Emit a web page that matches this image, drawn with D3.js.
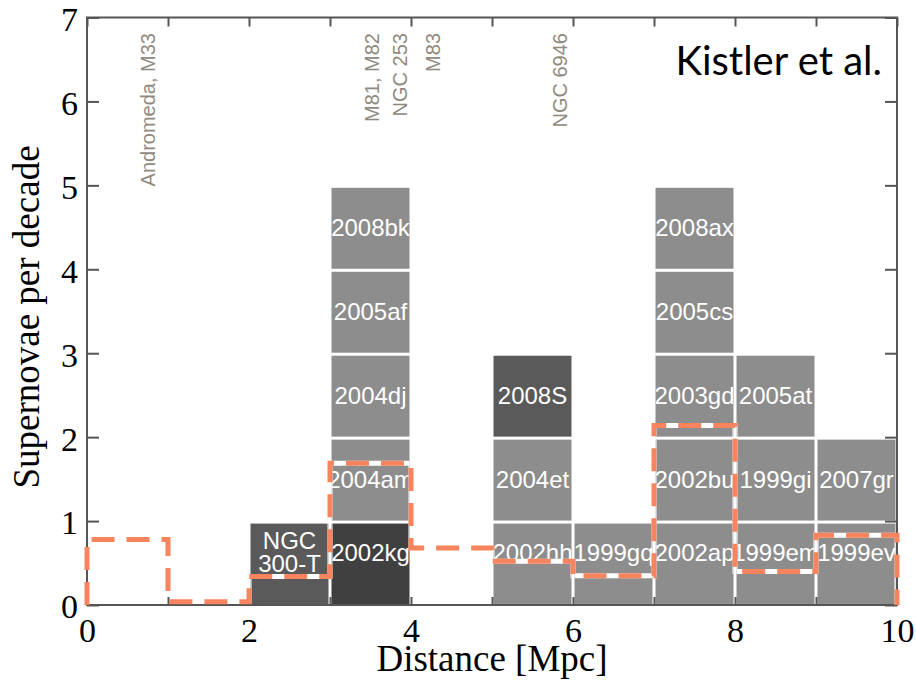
<!DOCTYPE html>
<html>
<head>
<meta charset="utf-8">
<script src="https://cdn.jsdelivr.net/npm/d3@7"></script>
<style>
  html, body { margin: 0; padding: 0; background: #fff; }
  svg { display: block; }
</style>
</head>
<body>
<svg id="chart" width="916" height="687"></svg>
<script>
// Observed core-collapse supernovae, one block per event, grouped into 1 Mpc distance bins
const snNames = ["NGC\n300-T", "2002kg", "2004am", "2004dj", "2005af", "2008bk",
                 "2002hh", "2004et", "2008S", "1999gq",
                 "2002ap", "2002bu", "2003gd", "2005cs", "2008ax",
                 "1999em", "1999gi", "2005at", "1999ev", "2007gr"];
const snBinStart = [2, 3, 3, 3, 3, 3, 5, 5, 5, 6, 7, 7, 7, 7, 7, 8, 8, 8, 9, 9];
const snKind = ["transient", "lbv", "sn", "sn", "sn", "sn",
                "sn", "sn", "transient", "sn",
                "sn", "sn", "sn", "sn", "sn",
                "sn", "sn", "sn", "sn", "sn"];
const snPerDecade = 1; // each event contributes one supernova per decade

// Expected rate per 1 Mpc bin (dashed step curve)
const rateBinStart = [0, 1, 2, 3, 4, 5, 6, 7, 8, 9];
const rateExpected = [0.78, 0.04, 0.34, 1.69, 0.68, 0.52, 0.35, 2.14, 0.40, 0.83];

// Nearby galaxies marked at their distances
const galaxyNames = ["Andromeda, M33", "M81, M82", "NGC 253", "M83", "NGC 6946"];
const galaxyDist = [0.75, 3.51, 3.86, 4.27, 5.84];

const xTicks = [0, 1, 2, 3, 4, 5, 6, 7, 8, 9, 10];
const yTicks = [0, 1, 2, 3, 4, 5, 6, 7];

const kindColor = { sn: "#8d8d8d", transient: "#5a5a5a", lbv: "#404040" };
const serif = "'Liberation Serif', 'Times New Roman', serif";
const sans = "'Liberation Sans', Arial, sans-serif";

const svg = d3.select("#chart");
const x = d3.scaleLinear().domain([0, 10]).range([87, 897]);
const y = d3.scaleLinear().domain([0, 7]).range([605, 17.5]);

// Stack the events inside each bin
const rowCount = {};
const blocks = snNames.map((name, i) => {
  const b = snBinStart[i];
  const row = rowCount[b] || 0;
  rowCount[b] = row + snPerDecade;
  return { name, bin: b, row, kind: snKind[i], id: "blk" + i };
});

const bx = d => x(d.bin) + 1.5;
const by = d => y(d.row + snPerDecade) + 2.5;
const bw = d => x(d.bin + 1) - x(d.bin) - 3;
const bh = d => y(d.row) - y(d.row + snPerDecade) - 3;

const defs = svg.append("defs");
blocks.forEach(d => {
  defs.append("clipPath").attr("id", d.id)
    .append("rect").attr("x", bx(d)).attr("y", by(d)).attr("width", bw(d)).attr("height", bh(d));
});
const allBlocksClip = defs.append("clipPath").attr("id", "allBlocks");
blocks.forEach(d => {
  allBlocksClip.append("rect").attr("x", bx(d)).attr("y", by(d)).attr("width", bw(d)).attr("height", bh(d));
});

// Blocks
const g = svg.append("g");
g.selectAll("rect.block").data(blocks).enter().append("rect")
  .attr("class", "block")
  .attr("x", bx).attr("y", by).attr("width", bw).attr("height", bh)
  .attr("fill", d => kindColor[d.kind]);

// Block labels
const lbl = g.selectAll("text.sn").data(blocks).enter().append("text")
  .attr("class", "sn")
  .attr("clip-path", d => `url(#${d.id})`)
  .attr("x", d => (x(d.bin) + x(d.bin + 1)) / 2)
  .attr("y", d => y(d.row === 0 ? 0.63 : d.row + 0.5))
  .attr("text-anchor", "middle")
  .attr("fill", "#fff")
  .style("font-family", sans)
  .style("font-size", "24px");
lbl.each(function(d) {
  const lines = d.name.split("\n");
  const t = d3.select(this);
  lines.forEach((ln, k) => {
    t.append("tspan")
      .attr("x", (x(d.bin) + x(d.bin + 1)) / 2)
      .attr("dy", k === 0 ? (0.35 - (lines.length - 1) * 0.48) + "em" : "0.96em")
      .text(ln);
  });
});

// Frame and ticks
const axisColor = "#555";
svg.append("rect")
  .attr("x", x(0)).attr("y", y(7))
  .attr("width", x(10) - x(0)).attr("height", y(0) - y(7))
  .attr("fill", "none").attr("stroke", axisColor).attr("stroke-width", 2);

function styleAxis(sel, dy) {
  sel.attr("font-family", serif).attr("font-size", 34);
  sel.select(".domain").remove();
  sel.selectAll(".tick line").attr("stroke", axisColor).attr("stroke-width", 2);
  sel.selectAll(".tick text")
    .attr("fill", "#000")
    .attr("dy", dy)
    .style("font-family", serif)
    .style("font-size", "34px");
}

svg.append("g").attr("transform", `translate(0,${y(0)})`)
  .call(d3.axisBottom(x).tickValues(xTicks).tickSize(-8).tickPadding(13)
    .tickFormat(d => d % 2 === 0 ? d3.format("d")(d) : ""))
  .call(styleAxis, "0.71em");
svg.append("g").attr("transform", `translate(0,${y(7)})`)
  .call(d3.axisTop(x).tickValues(xTicks).tickSize(-9).tickFormat(""))
  .call(styleAxis, "0");
svg.append("g").attr("transform", `translate(${x(0)},0)`)
  .call(d3.axisLeft(y).tickValues(yTicks).tickSize(-12).tickPadding(9).tickFormat(d3.format("d")))
  .call(styleAxis, "0.38em");
svg.append("g").attr("transform", `translate(${x(10)},0)`)
  .call(d3.axisRight(y).tickValues(yTicks).tickSize(-12).tickFormat(""))
  .call(styleAxis, "0");

// Expected rate step curve: white underlay inside the blocks, coral dashes on top
const ratePts = [[0, 0]].concat(rateBinStart.map((b, i) => [b, rateExpected[i]]));
ratePts.push([10, rateExpected[rateExpected.length - 1]], [10, 0]);
const stepLine = d3.line().x(d => x(d[0])).y(d => y(d[1])).curve(d3.curveStepAfter);
svg.append("path").attr("d", stepLine(ratePts))
  .attr("clip-path", "url(#allBlocks)")
  .attr("fill", "none").attr("stroke", "#fff").attr("stroke-width", 5);
svg.append("path").attr("d", stepLine(ratePts))
  .attr("fill", "none").attr("stroke", "#f6845f").attr("stroke-width", 5)
  .attr("stroke-dasharray", "23,12");

// Galaxy labels
svg.selectAll("text.gal").data(galaxyNames).enter().append("text")
  .attr("class", "gal")
  .attr("transform", (d, i) => `translate(${x(galaxyDist[i])},33) rotate(-90)`)
  .attr("text-anchor", "end")
  .attr("dy", "0.36em")
  .attr("fill", "#8f8a80")
  .style("font-family", sans)
  .style("font-size", "20px")
  .text(d => d);

// Axis titles
svg.append("text")
  .attr("x", (x(0) + x(10)) / 2).attr("y", 671)
  .attr("text-anchor", "middle")
  .style("font-family", serif)
  .style("font-size", "37px")
  .text("Distance [Mpc]");
svg.append("text")
  .attr("transform", "translate(39,317) rotate(-90)")
  .attr("text-anchor", "middle")
  .style("font-family", serif)
  .style("font-size", "37px")
  .text("Supernovae per decade");

// Attribution
svg.append("text")
  .attr("x", 882).attr("y", 75)
  .attr("text-anchor", "end")
  .style("font-family", "Lato, 'Open Sans', sans-serif")
  .style("font-size", "40px")
  .text("Kistler et al.");
</script>
</body>
</html>
